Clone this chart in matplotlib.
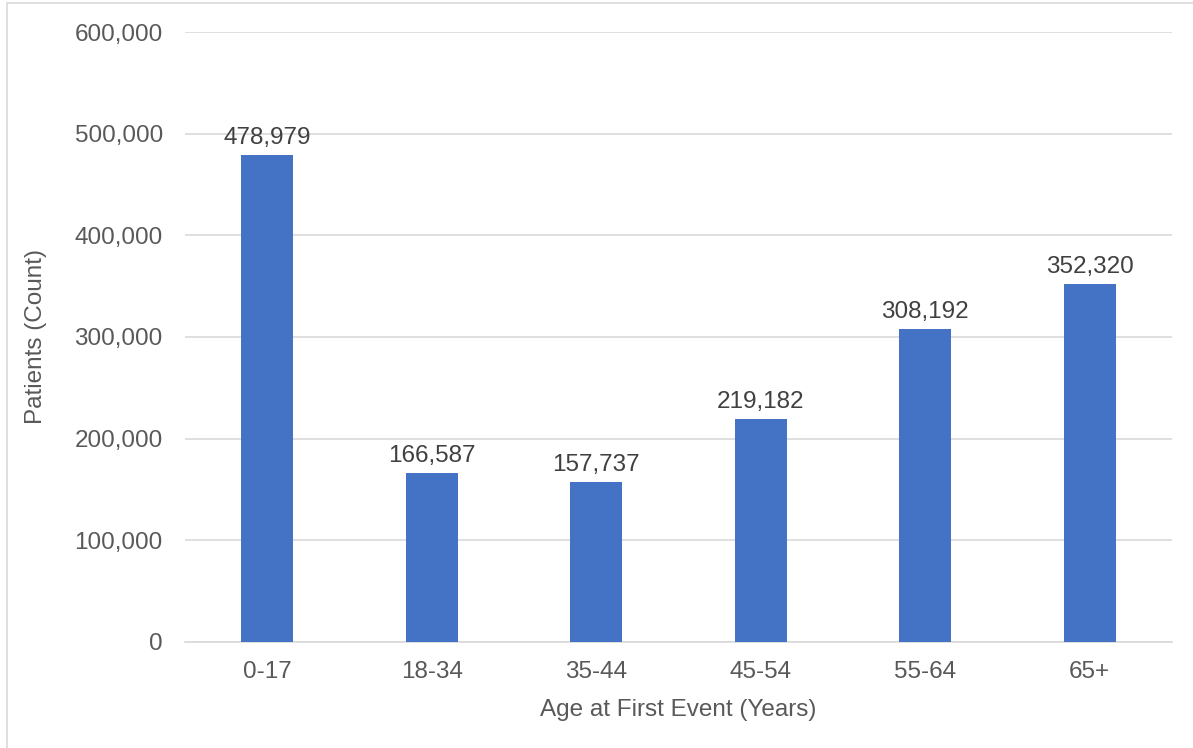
import matplotlib.pyplot as plt
from matplotlib.ticker import FuncFormatter
from matplotlib.patches import Rectangle

# Patients by age group at first event
age_groups = ['0-17', '18-34', '35-44', '45-54', '55-64', '65+']
patients = [478979, 166587, 157737, 219182, 308192, 352320]

plt.rcParams['font.family'] = ['Liberation Sans', 'DejaVu Sans']
FS = 17.5

fig = plt.figure(figsize=(11.93, 7.48), dpi=100)
ax = fig.add_axes([185 / 1193, 1 - 642 / 748, 987 / 1193, 610 / 748])

# light chart border (only left and top edges fall inside the image)
fig.patches.append(Rectangle((7 / 1193, -0.1), 1.2, 1 - 3 / 748 + 0.1,
                             transform=fig.transFigure, fill=False,
                             edgecolor='#d9d9d9', linewidth=1.2))

x = range(len(age_groups))
bars = ax.bar(x, patients, width=0.316, color='#4472c4', zorder=3)

for b, v in zip(bars, patients):
    ax.text(b.get_x() + b.get_width() / 2, v + 6000, f'{v:,}',
            ha='center', va='bottom', fontsize=FS, color='#404040')

ax.set_xlim(-0.5, len(age_groups) - 0.5)
ax.set_ylim(0, 600000)
ax.set_yticks(range(0, 600001, 100000))
ax.yaxis.set_major_formatter(FuncFormatter(lambda v, p: f'{int(v):,}'))
ax.set_xticks(list(x))
ax.set_xticklabels(age_groups)

ax.grid(axis='y', color='#d9d9d9', linewidth=1.2, zorder=0)
for s in ['top', 'right', 'left']:
    ax.spines[s].set_visible(False)
ax.spines['bottom'].set_color('#d9d9d9')
ax.spines['bottom'].set_linewidth(1.2)
ax.tick_params(length=0, labelsize=FS, labelcolor='#595959')
ax.tick_params(axis='y', pad=16)
ax.tick_params(axis='x', pad=14)

ax.set_xlabel('Age at First Event (Years)', fontsize=FS, color='#595959', labelpad=11)
ax.set_ylabel('Patients (Count)', fontsize=FS, color='#595959', labelpad=20)

fig.savefig('out.png', dpi=100)
